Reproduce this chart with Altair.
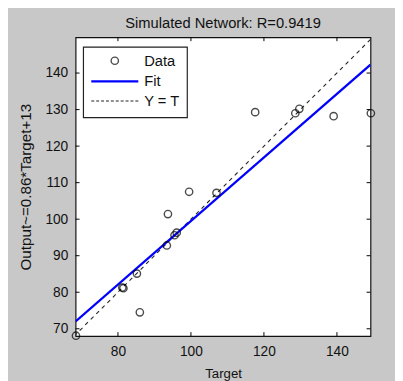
import altair as alt
import pandas as pd

# ---- data ----
target = [68.5, 81.2, 81.5, 85.2, 86.0, 93.4, 93.7, 95.5, 96.1, 99.5, 107.0, 117.6, 128.6, 129.7, 139.1, 149.3]
output = [68.1, 81.3, 81.1, 85.1, 74.5, 92.8, 101.4, 95.6, 96.3, 107.5, 107.2, 129.3, 129.0, 130.2, 128.2, 129.0]
fit_slope = 0.87
fit_intercept = 12.5
x_domain = [68.4, 149.2]
y_domain = [68.0, 149.8]
x_ticks = [80, 100, 120, 140]
y_ticks = [70, 80, 90, 100, 110, 120, 130, 140]
legend_labels = ["Data", "Fit", "Y = T"]
title_text = "Simulated Network: R=0.9419"
x_title = "Target"
y_title = "Output~=0.86*Target+13"

W, H = 301, 305
FONT = "Liberation Sans"
TXT = "#111111"

pts = pd.DataFrame({"t": target, "o": output})
fit = pd.DataFrame({"t": x_domain, "o": [fit_slope * v + fit_intercept for v in x_domain]})
ident = pd.DataFrame({"t": [min(x_domain[0], y_domain[0]), max(x_domain[1], y_domain[1])]})
ident["o"] = ident["t"]
xt = pd.DataFrame({"v": x_ticks})
yt = pd.DataFrame({"v": y_ticks})

xs = alt.Scale(domain=x_domain, nice=False, zero=False)
ys = alt.Scale(domain=y_domain, nice=False, zero=False)

xaxis = alt.Axis(values=x_ticks, ticks=False, tickSize=0, grid=False, domain=False,
                 labelFont=FONT, labelFontSize=14, labelColor=TXT, labelPadding=9,
                 title=x_title, titleFont=FONT, titleFontSize=13.5, titleFontWeight="normal",
                 titleColor=TXT, titlePadding=8)
yaxis = alt.Axis(values=y_ticks, ticks=False, tickSize=0, grid=False, domain=False,
                 labelFont=FONT, labelFontSize=14, labelColor=TXT, labelPadding=8,
                 title=y_title, titleFont=FONT, titleFontSize=15.5, titleFontWeight="normal",
                 titleColor=TXT, titlePadding=12)

base_pts = alt.Chart(pts).mark_point(shape="circle", filled=False, color="black",
                                     size=56, strokeWidth=1.4).encode(
    x=alt.X("t:Q", scale=xs, axis=xaxis),
    y=alt.Y("o:Q", scale=ys, axis=yaxis),
)

ident_line = alt.Chart(ident).mark_line(color="#222222", strokeWidth=1.1, strokeDash=[4, 4], clip=True).encode(
    x=alt.X("t:Q", scale=xs), y=alt.Y("o:Q", scale=ys))

fit_line = alt.Chart(fit).mark_line(color="#0000ff", strokeWidth=2.3, clip=True).encode(
    x=alt.X("t:Q", scale=xs), y=alt.Y("o:Q", scale=ys))

TL = 4
bx = alt.Chart(xt).mark_rule(color="black", strokeWidth=1).encode(
    x=alt.X("v:Q", scale=xs), y=alt.value(H), y2=alt.value(H - TL))
tx = alt.Chart(xt).mark_rule(color="black", strokeWidth=1).encode(
    x=alt.X("v:Q", scale=xs), y=alt.value(0), y2=alt.value(TL))
ly = alt.Chart(yt).mark_rule(color="black", strokeWidth=1).encode(
    y=alt.Y("v:Q", scale=ys), x=alt.value(0), x2=alt.value(TL))
ry = alt.Chart(yt).mark_rule(color="black", strokeWidth=1).encode(
    y=alt.Y("v:Q", scale=ys), x=alt.value(W), x2=alt.value(W - TL))

# ---- manual legend (MATLAB style box) ----
leg_box = alt.Chart(pd.DataFrame({"a": [0]})).mark_rect(
    fill="white", stroke="#222222", strokeWidth=1.2).encode(
    x=alt.value(8), x2=alt.value(114), y=alt.value(10), y2=alt.value(82))
leg_pt = alt.Chart(pd.DataFrame({"a": [0]})).mark_point(
    shape="circle", filled=False, color="black", size=56, strokeWidth=1.4).encode(
    x=alt.value(40), y=alt.value(24))
leg_fit = alt.Chart(pd.DataFrame({"a": [0]})).mark_rule(color="#0000ff", strokeWidth=2.3).encode(
    x=alt.value(16), x2=alt.value(64), y=alt.value(45))
leg_id = alt.Chart(pd.DataFrame({"a": [0]})).mark_rule(
    color="#222222", strokeWidth=1.1, strokeDash=[3, 2]).encode(
    x=alt.value(16), x2=alt.value(64), y=alt.value(65))
leg_txt = [
    alt.Chart(pd.DataFrame({"label": [lab]})).mark_text(
        align="left", baseline="middle", font=FONT, fontSize=15, color=TXT).encode(
        text="label:N", x=alt.value(70), y=alt.value(yy))
    for lab, yy in zip(legend_labels, [24, 45, 65])
]

chart = alt.layer(
    ident_line, fit_line, base_pts, bx, tx, ly, ry,
    leg_box, leg_pt, leg_fit, leg_id, *leg_txt
).properties(
    width=W, height=H,
    title=alt.TitleParams(title_text, font=FONT, fontSize=15, fontWeight="normal",
                          color=TXT, anchor="middle", offset=6),
    background="#c8c8c8",
    padding={"left": 69, "top": 26, "right": 25, "bottom": 42},
    autosize=alt.AutoSizeParams(type="none"),
).configure_view(fill="white", stroke="#111111", strokeWidth=1.2)

chart.save("out.html", embed_options={"renderer": "svg", "actions": False})
